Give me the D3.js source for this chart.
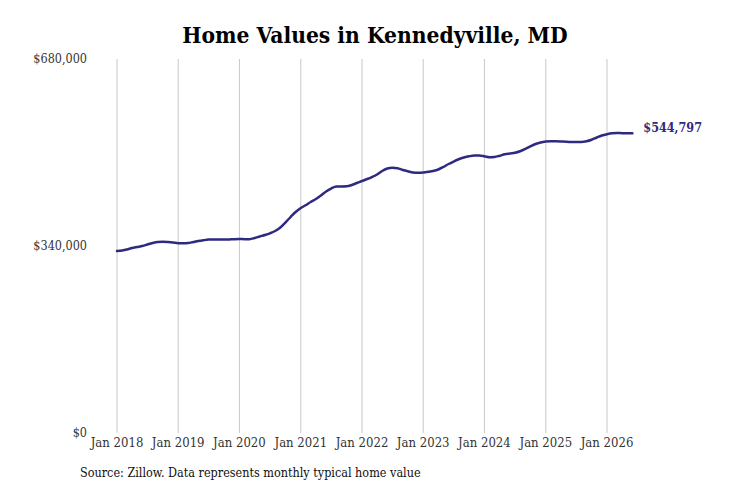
<!DOCTYPE html>
<html><head><meta charset="utf-8">
<script src="https://cdn.jsdelivr.net/npm/d3@7"></script>
<style>
html,body{margin:0;padding:0;background:#fff;}
svg text{font-family:"DejaVu Serif Condensed","DejaVu Serif",serif;font-stretch:condensed;}
</style></head>
<body><svg id="chart" width="731" height="487"></svg>
<script>
const startYear = 2018, startMonth = 0;
const values = [
330900,331800,333600,336400,338200,340000,342700,345400,347300,347800,347300,346400,
345100,344900,345400,347300,349100,350500,351600,352000,351800,351600,351800,352400,
352700,352400,352400,354500,357300,360000,363100,367300,373600,382700,392700,401800,
409100,414500,420000,425400,431800,439100,444500,448200,448200,448500,450900,454500,
458200,461800,465400,470000,476400,480900,482400,481500,478200,476000,473600,473100,
473600,474900,476400,479100,483600,489100,493600,497800,500900,503100,504500,504400,
503100,501500,501800,504000,506700,508200,509400,512200,516400,521300,525500,528200,
529800,530500,530500,530200,529500,529100,529300,529100,530400,533100,537300,540900,
543300,544900,545500,545100,544900,544797
];
const tickYears = [2018,2019,2020,2021,2022,2023,2024,2025,2026];
const yTicks = [0,340000,680000];
const title = "Home Values in Kennedyville, MD";
const source = "Source: Zillow. Data represents monthly typical home value";
const lastLabel = "$544,797";

const data = values.map((v,i)=>({date:new Date(startYear, startMonth+i, 1), value:v}));
const svg = d3.select("#chart");
const x = d3.scaleTime().domain([new Date(2018,0,1), new Date(2026,0,1)]).range([117,607]);
const y = d3.scaleLinear().domain([0,680000]).range([433,59]);
const lineColor = "#2e2a80";

// vertical gridlines
svg.append("g").selectAll("line").data(tickYears).join("line")
  .attr("x1",d=>x(new Date(d,0,1))).attr("x2",d=>x(new Date(d,0,1)))
  .attr("y1",y(680000)).attr("y2",y(0))
  .attr("stroke","#c8c8c8").attr("stroke-width",1);

// x labels
svg.append("g").selectAll("text").data(tickYears).join("text")
  .attr("x",d=>x(new Date(d,0,1))).attr("y",447)
  .attr("text-anchor","middle").attr("font-size",13).attr("fill","#333")
  .text(d=>"Jan "+d);

// y labels
const fmt = d3.format("$,");
svg.append("g").selectAll("text").data(yTicks).join("text")
  .attr("x",87).attr("y",d=>y(d)+4)
  .attr("text-anchor","end").attr("font-size",12.5).attr("fill","#333")
  .text(d=>fmt(d));

// line
const line = d3.line().x(d=>x(d.date)).y(d=>y(d.value)).curve(d3.curveMonotoneX);
svg.append("path").datum(data).attr("d",line)
  .attr("fill","none").attr("stroke",lineColor).attr("stroke-width",2.5)
  .attr("stroke-linejoin","round").attr("stroke-linecap","round");

const last = data[data.length-1];
svg.append("text").attr("x",x(last.date)+11).attr("y",y(last.value)-1)
  .attr("font-size",12.5).attr("font-weight","bold").attr("fill",lineColor)
  .text(lastLabel);

svg.append("text").attr("x",375).attr("y",43).attr("text-anchor","middle")
  .attr("font-size",22.6).attr("font-weight","bold").attr("fill","#000")
  .text(title);

svg.append("text").attr("x",80).attr("y",477).attr("font-size",12.5).attr("fill","#111")
  .text(source);
</script></body></html>
